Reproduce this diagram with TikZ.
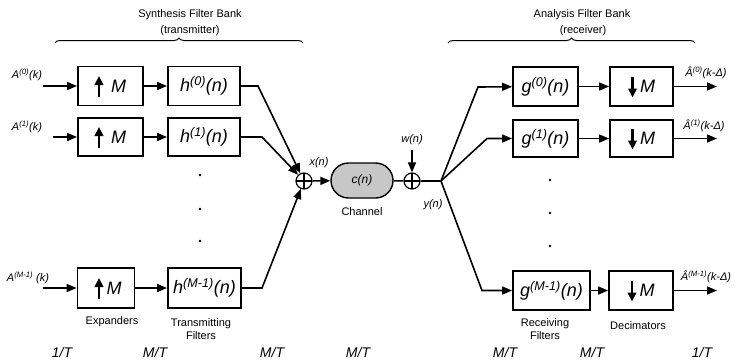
\documentclass[tikz,border=0pt]{standalone}
\usepackage{fontspec}
\setmainfont{Liberation Sans}
\usetikzlibrary{arrows.meta,shapes.misc,decorations.pathreplacing}

\begin{document}
\begin{tikzpicture}[x=1pt,y=-1pt,
  blk/.style={draw,line width=1.8pt,inner sep=0pt,minimum height=39pt,
    font=\fontsize{18}{20}\selectfont\itshape},
  conn/.style={line width=1.6pt},
  arr/.style={conn,-{Triangle[length=10pt,width=8pt]}},
  inarr/.style={line width=2.2pt,-{Triangle[length=9pt,width=8.5pt]}},
  lbl/.style={font=\fontsize{11}{13}\selectfont\itshape,inner sep=0pt},
  captxt/.style={font=\fontsize{11}{13}\selectfont,inner sep=0pt},
  rate/.style={font=\fontsize{14}{16}\selectfont\itshape,inner sep=0pt},
  adder/.style={circle,draw,line width=1.2pt,minimum size=16pt,inner sep=0pt,
    path picture={\draw[line width=1.2pt]
      (path picture bounding box.north) -- (path picture bounding box.south)
      (path picture bounding box.west) -- (path picture bounding box.east);}},
  chan/.style={rounded rectangle,draw,line width=1.4pt,fill=black!22,
    minimum width=62pt,minimum height=35pt,inner sep=0pt,
    font=\fontsize{12}{14}\selectfont\itshape},
  bank/.style={decorate,decoration={brace,amplitude=5pt},line width=1pt},
  smalldot/.style={circle,fill,inner sep=0pt,minimum size=2.8pt}
]
\useasboundingbox (0,0) rectangle (739,360);

% bank titles and braces
\node[captxt] (synt) at (190,15) {Synthesis Filter Bank};
\node[captxt] (syns) at (190,31) {(transmitter)};
\node[captxt] (anat) at (582,15) {Analysis Filter Bank};
\node[captxt] (anas) at (583,31) {(receiver)};
\coordinate (bl1) at (55,43);  \coordinate (bl2) at (303,43);
\coordinate (br1) at (448,43); \coordinate (br2) at (695,43);
\draw[bank] (bl1) -- (bl2);
\draw[bank] (br1) -- (br2);

% synthesis side: expanders and transmitting filters
\node[blk,minimum width=65pt] (u0) at (110.5,86) {\hspace*{16pt}M};
\node[blk,minimum width=72pt] (h0) at (204,86) {h\textsuperscript{(0)}(n)};
\node[blk,minimum width=65pt,minimum height=38pt] (u1) at (110.5,137) {\hspace*{16pt}M};
\node[blk,minimum width=72pt,minimum height=38pt] (h1) at (204,137) {h\textsuperscript{(1)}(n)};
\node[blk,minimum width=57pt,minimum height=40pt] (u2) at (106,288) {\hspace*{16pt}M};
\node[blk,minimum width=73pt,minimum height=40pt] (h2) at (204.5,288) {h\textsuperscript{(M-1)}(n)};

\foreach \b/\dx in {u0/-11.5,u1/-11.5,u2/-7}
  \draw[inarr] ([shift={(\dx,11)}]\b.center) -- ([shift={(\dx,-10)}]\b.center);

% inputs
\coordinate (i0) at (43,86);
\coordinate (i1) at (53,137);
\coordinate (i2) at (43,288);
\node[lbl] (a0) at (27,75) {A\textsuperscript{(0)}(k)};
\node[lbl] (a1) at (27,127) {A\textsuperscript{(1)}(k)};
\node[lbl] (a2) at (28,278) {A\textsuperscript{(M-1)} (k)};
\draw[arr] (i0) -- (u0);
\draw[arr] (i1) -- (u1);
\draw[arr] (i2) -- (u2);
\draw[arr] (u0) -- (h0);
\draw[arr] (u1) -- (h1);
\draw[arr] (u2) -- (h2);

\node[smalldot] (ld1) at (200,175) {};
\node[smalldot] (ld2) at (200,209) {};
\node[smalldot] (ld3) at (200,241) {};

% summation, channel and noise
\node[adder] (s1) at (304,181) {};
\coordinate (k0) at (258,86);
\coordinate (k1) at (262,137);
\coordinate (k2) at (262,288);
\draw[arr] (h0.east) -- (k0) -- (s1);
\draw[arr] (h1.east) -- (k1) -- (s1);
\draw[arr] (h2.east) -- (k2) -- (s1);

\node[chan] (ch) at (362,180.5) {c(n)};
\node[captxt] (chl) at (362,212) {Channel};
\node[lbl] (xl) at (319,163) {x(n)};
\draw[arr] (s1) -- (ch);

\node[adder] (s2) at (412,181) {};
\node[lbl] (wl) at (412,140) {w(n)};
\coordinate (w) at (412,150);
\draw[conn] (ch) -- (s2);
\draw[arr] (w) -- (s2);

\coordinate (br) at (441,181);
\node[lbl] (yl) at (433,205) {y(n)};
\draw[conn] (s2) -- (br);

% analysis side: receiving filters and decimators
\node[blk,minimum width=65pt] (g0) at (545.5,86.5) {g\textsuperscript{(0)}(n)};
\node[blk,minimum width=63pt] (d0) at (641.5,86.5) {\hspace*{12pt}M};
\node[blk,minimum width=65pt,minimum height=37pt] (g1) at (545.5,138.5) {g\textsuperscript{(1)}(n)};
\node[blk,minimum width=63pt,minimum height=37pt] (d1) at (641.5,138.5) {\hspace*{12pt}M};
\node[blk,minimum width=77pt] (g2) at (551.5,290.5) {g\textsuperscript{(M-1)}(n)};
\node[blk,minimum width=64pt] (d2) at (641,290.5) {\hspace*{12pt}M};

\foreach \b in {d0,d1,d2}
  \draw[inarr] ([shift={(-9,-10)}]\b.center) -- ([shift={(-9,11)}]\b.center);

\coordinate (c0) at (478,87);
\coordinate (c1) at (487,138.5);
\coordinate (c2) at (482,290.5);
\draw[arr] (br) -- (c0) -- (g0);
\draw[arr] (br) -- (c1) -- (g1);
\draw[arr] (br) -- (c2) -- (g2);
\draw[arr] (g0) -- (d0);
\draw[arr] (g1) -- (d1);
\draw[arr] (g2) -- (d2);

\node[smalldot] (rd1) at (550,180) {};
\node[smalldot] (rd2) at (550,213) {};
\node[smalldot] (rd3) at (550,246) {};

% outputs
\coordinate (o0) at (717,86.5);
\coordinate (o1) at (717,138.5);
\coordinate (o2) at (717,290.5);
\draw[arr] (d0) -- (o0);
\draw[arr] (d1) -- (o1);
\draw[arr] (d2) -- (o2);
\node[lbl] (b0) at (706,73) {Â\textsuperscript{(0)}(k-Δ)};
\node[lbl] (b1) at (704,126) {Â\textsuperscript{(1)}(k-Δ)};
\node[lbl] (b2) at (706,277) {Â\textsuperscript{(M-1)}(k-Δ)};

% block captions
\node[captxt] (ex) at (112,322) {Expanders};
\node[captxt,align=center] (tf) at (201,329) {Transmitting\\Filters};
\node[captxt,align=center] (rf) at (545,329) {Receiving\\Filters};
\node[captxt] (dc) at (638,326) {Decimators};

% sampling rates
\node[rate] (r1) at (62,352) {1/T};
\node[rate] (r2) at (155,352) {M/T};
\node[rate] (r3) at (272,352) {M/T};
\node[rate] (r4) at (358,352) {M/T};
\node[rate] (r5) at (505,352) {M/T};
\node[rate] (r6) at (592,352.5) {M/T};
\node[rate] (r7) at (702,352) {1/T};
\end{tikzpicture}
\end{document}
